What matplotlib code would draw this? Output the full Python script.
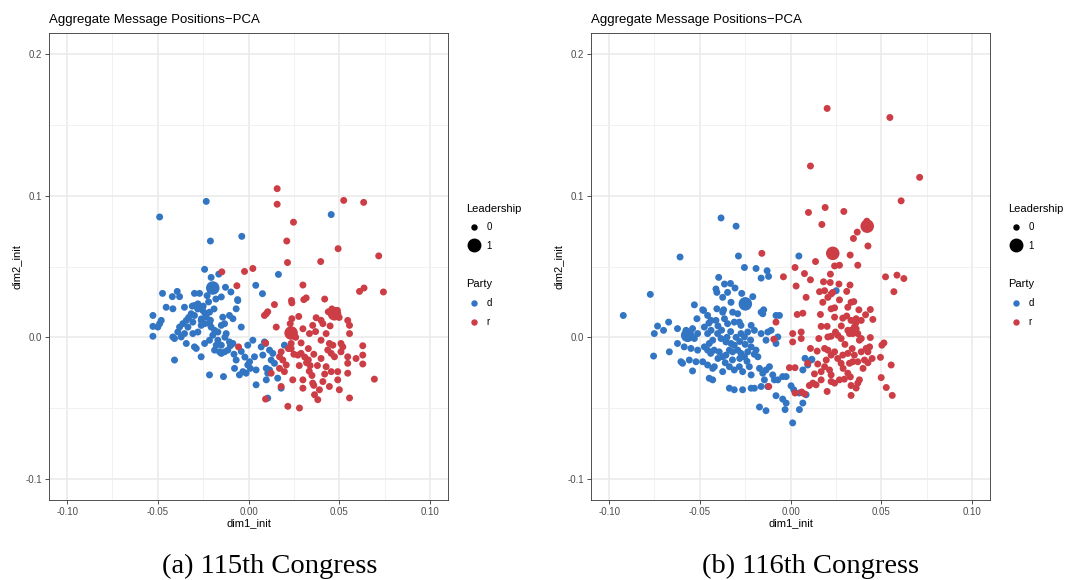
import numpy as np
import matplotlib
matplotlib.use("Agg")
import matplotlib.pyplot as plt
from matplotlib.lines import Line2D
from matplotlib.ticker import FixedLocator

plt.rcParams['font.family'] = ['Liberation Sans', 'DejaVu Sans']
plt.rcParams['axes.unicode_minus'] = False

BLUE = "#3275c3"
RED = "#cc3d45"

# ---- 115th Congress (panel a) ----
a_dem = [(-0.049, 0.085), (-0.0233, 0.096), (-0.021, 0.068), (-0.0037, 0.0713), (-0.0242, 0.048),
         (-0.0164, 0.0446), (-0.0206, 0.0423), (-0.0127, 0.0353), (-0.0097, 0.032), (0.004, 0.0367),
         (0.0077, 0.0308), (-0.0474, 0.031), (-0.0393, 0.0324), (-0.0298, 0.031), (-0.027, 0.031),
         (-0.042, 0.0287), (-0.038, 0.0287), (-0.0228, 0.0294), (-0.015, 0.0285), (-0.006, 0.0266),
         (0.0456, 0.0867), (0.0165, 0.0444),
         (0.0094, -0.0044), (0.0079, -0.0126), (0.0116, -0.0091), (0.0134, -0.0114), (0.0125, -0.0161),
         (0.0143, -0.0184), (0.0098, -0.0219), (0.0116, -0.0231), (0.0106, -0.0254), (0.0098, -0.0301),
         (0.0161, -0.0289), (0.018, -0.036), (0.0106, -0.043), (0.0198, -0.0056),
         (-0.0527, 0.0154), (-0.0454, 0.0212), (-0.0417, 0.0201), (-0.0353, 0.0212), (-0.0298, 0.0224),
         (-0.0279, 0.0236), (-0.0252, 0.0189), (-0.0215, 0.0177), (-0.0233, 0.0142), (-0.0261, 0.0119),
         (-0.0298, 0.0154), (-0.0316, 0.0166), (-0.0307, 0.0107), (-0.0142, 0.0142), (-0.0105, 0.0154),
         (-0.0086, 0.0131), (-0.0068, 0.0201), (-0.0059, 0.0259), (-0.0481, 0.0119), (-0.049, 0.0096),
         (-0.0527, 0.0077), (-0.0527, 0.0007), (-0.05, 0.0072),
         (-0.038, 0.0072), (-0.0362, 0.0096), (-0.0343, 0.0119), (-0.039, 0.0037), (-0.0408, -0.0009),
         (-0.0417, 0.0002), (-0.0371, 0.0002), (-0.0353, 0.0026), (-0.0334, 0.0072), (-0.0307, 0.0026),
         (-0.0279, 0.0037), (-0.0261, 0.0084), (-0.0242, 0.0096), (-0.0215, 0.0096), (-0.0206, 0.0072),
         (-0.0187, 0.0049), (-0.0169, 0.0037), (-0.015, 0.0084), (-0.0132, 0.0096),
         (-0.0343, -0.0044), (-0.0298, -0.0068), (-0.0261, -0.0138), (-0.0288, -0.0079), (-0.0242, -0.0044),
         (-0.0215, -0.0021), (-0.0197, 0.0014), (-0.0169, -0.0021), (-0.015, -0.0056), (-0.0178, -0.0056),
         (-0.0187, -0.0091), (-0.016, -0.0103), (-0.0132, -0.0103), (-0.0114, -0.0091), (-0.0105, -0.0033),
         (-0.0086, -0.0044), (-0.0123, 0.0026), (-0.004, 0.0072), (-0.015, -0.0114),
         (-0.0408, -0.0161), (-0.0215, -0.0266), (-0.0138, -0.0278),
         (-0.0068, -0.0161), (-0.0077, -0.022), (-0.005, -0.0266), (-0.0031, -0.0243), (-0.0013, -0.0254),
         (-0.0004, -0.0196), (0.0006, -0.0173), (0.0024, -0.0021), (0.0033, -0.0138), (-0.0004, -0.0056),
         (0.0042, -0.0231), (0.007, -0.0068), (0.0088, -0.0033), (0.0042, -0.0336),
         (-0.025, 0.022), (-0.022, 0.025), (-0.028, 0.020), (-0.024, 0.017), (-0.019, 0.020),
         (-0.031, 0.022), (-0.026, 0.013), (-0.033, 0.014), (-0.021, 0.012), (-0.018, 0.027),
         (-0.013, 0.0), (-0.010, -0.006), (-0.008, -0.012), (-0.004, -0.010), (-0.002, -0.014),
         (0.001, -0.022)]

a_rep = [(-0.0147, 0.0462), (-0.0022, 0.0465), (0.0024, 0.0486), (-0.0064, 0.0364),
         (0.0158, 0.105), (0.0158, 0.094), (0.0525, 0.0967), (0.0635, 0.0953), (0.0248, 0.0813),
         (0.0211, 0.068), (0.0494, 0.0626), (0.0718, 0.0575), (0.0215, 0.0528), (0.0398, 0.0535),
         (0.030, 0.0369), (0.0612, 0.0324), (0.0637, 0.0348), (0.0744, 0.032), (0.0318, 0.0278),
         (0.0305, 0.0266), (0.042, 0.027), (0.0237, 0.026),
         (0.0239, 0.0243), (0.0143, 0.0231), (0.0106, 0.018), (0.0088, 0.0154), (0.0153, 0.0072),
         (0.0277, 0.0147), (0.0239, 0.0131), (0.023, 0.0096), (0.0373, 0.0138), (0.041, 0.0096),
         (0.0428, 0.0026), (0.0547, 0.0119), (0.0557, 0.0084), (0.0557, 0.0026), (0.0354, 0.0084),
         (0.030, 0.006), (0.0336, 0.0026), (0.04, -0.0021), (0.0446, -0.0044), (0.0465, -0.0056),
         (0.051, -0.0044), (0.063, -0.006), (0.0235, -0.0044), (0.0235, -0.008), (0.018, -0.0103),
         (0.0189, -0.0161), (0.0171, -0.022), (0.0272, -0.0126), (0.029, -0.0114), (0.033, -0.016),
         (0.034, -0.02), (0.0335, -0.024), (0.04, -0.015), (0.0437, -0.009), (0.0456, -0.0114),
         (0.0474, -0.0138), (0.052, -0.0068), (0.051, -0.0103), (0.0547, -0.0138), (0.0547, -0.0184),
         (0.0593, -0.015), (0.063, -0.0126), (0.063, -0.0189), (0.0428, -0.0208), (0.0456, -0.0243),
         (0.0492, -0.0243), (0.0547, -0.0254), (0.0492, -0.0301), (0.041, -0.0313), (0.0446, -0.0348),
         (0.0391, -0.0371), (0.0354, -0.0324), (0.030, -0.0301), (0.030, -0.036), (0.0244, -0.0301),
         (0.0501, -0.0371), (0.0557, -0.0429), (0.0694, -0.0296), (0.0364, -0.0406), (0.0382, -0.0441),
         (0.0217, -0.0488), (0.0281, -0.05), (0.0094, -0.0437), (0.018, -0.0348), (0.0125, -0.0254),
         (0.0198, -0.0243), (0.0208, -0.0196), (0.0171, -0.0138),
         (0.0098, 0.0166), (-0.0055, -0.0068), (0.0094, -0.004),
         (0.032, -0.018), (0.028, -0.020), (0.035, -0.027), (0.038, -0.02), (0.033, -0.008),
         (0.029, -0.004), (0.026, 0.0), (0.037, 0.004), (0.040, 0.012), (0.044, 0.018),
         (0.046, 0.020), (0.049, 0.019), (0.050, 0.014), (0.045, 0.008), (0.025, -0.012),
         (0.022, -0.008), (0.036, -0.034), (0.042, -0.026), (0.031, -0.014), (0.036, -0.012)]

a_dem_lead = [(-0.0197, 0.0348)]
a_rep_lead = [(0.0235, 0.003), (0.0474, 0.0166)]

# ---- 116th Congress (panel b) ----
b_dem = [(-0.0383, 0.0843), (-0.03, 0.0785), (-0.0287, 0.0574), (0.0046, 0.0574), (-0.0254, 0.0493),
         (-0.019, 0.0486), (-0.0129, 0.047), (-0.0121, 0.043), (-0.0162, 0.0418), (-0.0396, 0.0423),
         (-0.0364, 0.0376), (-0.0331, 0.038), (-0.0306, 0.0348), (-0.0411, 0.0341), (-0.0406, 0.0317),
         (-0.0347, 0.0317), (-0.0374, 0.0282), (-0.0328, 0.0247), (-0.0269, 0.031), (-0.0208, 0.0287),
         (-0.0406, 0.0201), (-0.0369, 0.0194), (-0.0148, 0.0194),
         (-0.0374, 0.0177), (-0.0319, 0.0177), (-0.0291, 0.0166), (-0.0162, 0.0177), (-0.0153, 0.0166),
         (-0.008, 0.0154), (-0.0061, 0.0154),
         (-0.0438, 0.0119), (-0.0411, 0.0119), (-0.0364, 0.0131), (-0.0347, 0.0096), (-0.031, 0.0107),
         (-0.0282, 0.0107), (-0.0273, 0.0084), (-0.0217, 0.0084), (-0.0199, 0.0049), (-0.0236, 0.0037),
         (-0.0254, 0.0002), (-0.0273, 0.0026), (-0.0162, 0.0026), (-0.0125, 0.0037), (-0.0107, 0.0049),
         (-0.007, 0.0002), (-0.008, -0.0044), (-0.0135, -0.0021),
         (-0.0448, -0.0044), (-0.0429, -0.0021), (-0.0402, 0.0026), (-0.0383, -0.0009), (-0.0356, -0.0033),
         (-0.0328, -0.0044), (-0.031, -0.0056),
         (-0.044, -0.0114), (-0.0421, -0.0091), (-0.0393, -0.0103), (-0.0374, -0.0138), (-0.0356, -0.0126),
         (-0.0337, -0.0091), (-0.0319, -0.0103), (-0.0291, -0.0091), (-0.0273, -0.0114), (-0.0254, -0.0138),
         (-0.0236, -0.0103), (-0.0217, -0.0068), (-0.019, -0.0091), (-0.018, -0.0138),
         (-0.042, -0.0208), (-0.0374, -0.0243), (-0.0337, -0.0208), (-0.031, -0.0231), (-0.0282, -0.0208),
         (-0.0264, -0.0243), (-0.0227, -0.0208), (-0.0217, -0.0266), (-0.0171, -0.022), (-0.0153, -0.0254),
         (-0.0135, -0.0231), (-0.0116, -0.0208), (-0.0144, -0.0301), (-0.0098, -0.0266), (-0.0089, -0.0301),
         (-0.007, -0.0301), (-0.0043, -0.0278), (-0.0024, -0.0278),
         (-0.0337, -0.036), (-0.031, -0.0371), (-0.0264, -0.0371), (-0.0217, -0.036), (-0.0199, -0.036),
         (-0.0162, -0.0348), (-0.0125, -0.0348),
         (-0.008, -0.0413), (-0.0043, -0.0437), (-0.0024, -0.0465), (0.0003, -0.0343), (0.0018, -0.0371),
         (0.0049, -0.0394), (0.0068, -0.0465), (0.0049, -0.0511), (-0.0171, -0.0493), (-0.0135, -0.0519),
         (-0.003, -0.0511), (0.0012, -0.0605),
         (0.0068, -0.0231), (0.0095, -0.0196), (0.0114, -0.0161), (0.008, -0.0149), (0.0118, -0.0156),
         (0.0086, -0.0406), (0.0252, 0.0329),
         (-0.0609, 0.0567), (-0.0773, 0.0303), (-0.053, 0.0229), (-0.0484, 0.0194), (-0.0922, 0.0154),
         (-0.0479, 0.0189), (-0.0457, 0.0154), (-0.0516, 0.0131), (-0.0733, 0.0079), (-0.0672, 0.0107),
         (-0.0751, 0.0026), (-0.07, 0.0049), (-0.0623, 0.0061), (-0.0576, 0.0049), (-0.054, 0.0061),
         (-0.053, -0.0009), (-0.0512, 0.0026), (-0.0475, 0.0072), (-0.0457, 0.0026), (-0.0438, 0.0049),
         (-0.0755, -0.0133), (-0.0668, -0.0103), (-0.0623, -0.0044), (-0.0586, -0.0068), (-0.0549, -0.0079),
         (-0.0512, -0.0091), (-0.0475, -0.0068), (-0.0457, -0.0091), (-0.0604, -0.0173), (-0.0595, -0.0184),
         (-0.0558, -0.0161), (-0.0521, -0.0173), (-0.0484, -0.0173), (-0.0457, -0.0196), (-0.0429, -0.022),
         (-0.0429, -0.0301), (-0.0448, -0.029), (-0.054, -0.0238),
         (-0.040, 0.008), (-0.038, 0.005), (-0.035, 0.0), (-0.033, 0.004), (-0.030, 0.0),
         (-0.028, -0.003), (-0.025, -0.005), (-0.022, -0.002), (-0.020, -0.012), (-0.024, -0.017),
         (-0.028, -0.015), (-0.032, -0.016), (-0.036, -0.018), (-0.040, -0.015), (-0.045, 0.010)]

b_rep = [(0.0202, 0.1617), (0.0548, 0.1553), (0.011, 0.121), (0.0712, 0.113), (0.061, 0.0964),
         (0.0099, 0.0882), (0.0191, 0.0917), (0.0294, 0.0889), (0.0421, 0.082),
         (0.0368, 0.0743), (0.0347, 0.0698), (0.0173, 0.0797), (0.0427, 0.0645), (0.0329, 0.0581),
         (0.0138, 0.0535), (0.0243, 0.0504), (0.027, 0.0509), (0.0371, 0.0509), (0.0077, 0.045),
         (0.022, 0.0446), (0.0524, 0.0427), (0.0587, 0.0439), (0.0625, 0.0415), (0.057, 0.0322),
         (0.011, 0.0406), (0.0182, 0.0392), (0.0219, 0.0387), (0.0267, 0.0376), (0.0328, 0.0369),
         (0.016, 0.0322), (0.0188, 0.0329), (0.0224, 0.0306), (0.0206, 0.0282), (0.0233, 0.0317),
         (0.031, 0.0324), (0.0086, 0.0282), (0.0178, 0.0247), (0.027, 0.0264), (0.0224, 0.0201),
         (0.0243, 0.0208), (0.0316, 0.0212), (0.0334, 0.0247), (0.0349, 0.0252), (0.0377, 0.0194),
         (0.044, 0.0196), (0.0414, 0.0159), (0.0454, 0.0126), (0.0165, 0.0161), (0.0068, 0.017),
         (0.0243, 0.0142), (0.0288, 0.0135), (0.0334, 0.0119), (0.0362, 0.0131), (0.039, 0.0119),
         (0.0316, 0.0049), (0.0334, 0.0049), (0.0352, 0.0072), (0.0325, 0.0026), (0.0343, 0.0026),
         (0.0362, 0.006), (0.0371, 0.0026), (0.039, -0.0009), (0.038, -0.0021), (0.044, -0.0002),
         (0.0202, 0.0077), (0.0169, 0.0077), (0.0248, 0.0037), (0.0261, 0.0014), (0.0224, 0.0007),
         (0.0206, 0.0002), (0.0279, -0.0009), (0.0156, -0.0009), (0.0059, 0.0037), (0.0059, -0.0009),
         (0.0515, -0.004), (0.0504, -0.0056), (0.0496, -0.0142), (0.0555, -0.0196), (0.05, -0.0285),
         (0.0528, -0.0355), (0.0561, -0.0411),
         (0.011, -0.0079), (0.0147, -0.0098), (0.0188, -0.0079), (0.0206, -0.0091), (0.0224, -0.0126),
         (0.0243, -0.0103), (0.0288, -0.0126), (0.0316, -0.0114), (0.0352, -0.0126), (0.039, -0.0103),
         (0.0417, -0.0079), (0.0436, -0.0068), (0.0427, -0.0103), (0.0095, -0.0184), (0.015, -0.0189),
         (0.0197, -0.0161), (0.0188, -0.0208), (0.0215, -0.0231), (0.0224, -0.0266), (0.0279, -0.0184),
         (0.0325, -0.0184), (0.0343, -0.0173), (0.0371, -0.0173), (0.0408, -0.0161), (0.0427, -0.018),
         (0.0132, -0.0259), (0.0169, -0.0243), (0.0169, -0.0301), (0.0141, -0.0336), (0.0104, -0.0341),
         (0.0123, -0.0324), (0.0224, -0.0313), (0.0243, -0.0324), (0.027, -0.0301), (0.0316, -0.0254),
         (0.0297, -0.0296), (0.0371, -0.0324), (0.038, -0.0301), (0.0334, -0.0341), (0.0362, -0.0359),
         (0.0202, -0.0383), (0.0334, -0.0411), (0.0062, -0.0387), (0.0077, -0.04),
         (-0.0158, 0.0593), (0.0025, 0.0493), (-0.0039, 0.0427), (0.0031, 0.0362),
         (-0.008, 0.0107), (0.0037, 0.0161), (0.0012, 0.0026), (0.0012, -0.0033), (-0.0092, -0.0014),
         (-0.012, -0.0348), (0.0025, -0.0394), (-0.0006, -0.0215), (0.0025, -0.0215),
         (0.030, -0.005), (0.028, 0.008), (0.034, -0.008), (0.036, 0.010), (0.031, 0.015),
         (0.026, -0.015), (0.029, -0.022), (0.033, -0.028), (0.040, -0.022), (0.045, -0.015)]

b_dem_lead = [(-0.0249, 0.0236), (-0.0567, 0.0014)]
b_rep_lead = [(0.0423, 0.0785), (0.0233, 0.0593)]

xticks = [-0.10, -0.05, 0.00, 0.05, 0.10]
yticks = [-0.1, 0.0, 0.1, 0.2]
captions = ["(a) 115th Congress", "(b) 116th Congress"]

SMALL = 25
LARGE = 95


def draw_panel(ax, dem, rep, dem_lead, rep_lead):
    for pts, col, s in [(dem, BLUE, SMALL), (rep, RED, SMALL),
                        (dem_lead, BLUE, LARGE), (rep_lead, RED, LARGE)]:
        arr = np.array(pts)
        ax.scatter(arr[:, 0], arr[:, 1], s=s, color=col, edgecolors='none', zorder=3)
    ax.set_xlim(-0.11, 0.11)
    ax.set_ylim(-0.115, 0.215)
    ax.set_xticks(xticks)
    ax.set_xticklabels(["%.2f" % v for v in xticks])
    ax.set_yticks(yticks)
    ax.set_yticklabels(["%.1f" % v for v in yticks])
    ax.xaxis.set_minor_locator(FixedLocator([-0.075, -0.025, 0.025, 0.075]))
    ax.yaxis.set_minor_locator(FixedLocator([-0.05, 0.05, 0.15]))
    ax.grid(which='major', color='#EBEBEB', lw=1.2, zorder=0)
    ax.grid(which='minor', color='#F1F1F1', lw=0.7, zorder=0)
    ax.set_axisbelow(True)
    ax.tick_params(which='major', length=3, width=0.6, color='#333333',
                   labelsize=7, labelcolor='#4D4D4D', pad=2)
    ax.tick_params(which='minor', length=0)
    for sp in ax.spines.values():
        sp.set_color('#333333')
        sp.set_linewidth(0.6)
    ax.set_xlabel("dim1_init", fontsize=8, labelpad=1)
    ax.set_ylabel("dim2_init", fontsize=8, labelpad=3)
    ax.set_title("Aggregate Message Positions\u2212PCA", loc='left', fontsize=9.5, pad=7)

    lead_handles = [Line2D([], [], ls='none', marker='o', color='black', markersize=3.6, label='0'),
                    Line2D([], [], ls='none', marker='o', color='black', markersize=9, label='1')]
    party_handles = [Line2D([], [], ls='none', marker='o', color=BLUE, markersize=3.6, label='d'),
                     Line2D([], [], ls='none', marker='o', color=RED, markersize=3.6, label='r')]
    leg1 = ax.legend(handles=lead_handles, title='Leadership', loc='upper left',
                     bbox_to_anchor=(1.035, 0.642), frameon=False, fontsize=7,
                     title_fontsize=8, alignment='left', handletextpad=0.5,
                     labelspacing=0.85, borderaxespad=0, handlelength=1.6)
    ax.add_artist(leg1)
    ax.legend(handles=party_handles, title='Party', loc='upper left',
              bbox_to_anchor=(1.035, 0.482), frameon=False, fontsize=7,
              title_fontsize=8, alignment='left', handletextpad=0.5,
              labelspacing=0.95, borderaxespad=0, handlelength=1.6)


fig = plt.figure(figsize=(10.68, 5.8), dpi=100)
ax_a = fig.add_axes([49 / 1068, 80 / 580, 399 / 1068, 467 / 580])
ax_b = fig.add_axes([591 / 1068, 80 / 580, 399 / 1068, 467 / 580])
draw_panel(ax_a, a_dem, a_rep, a_dem_lead, a_rep_lead)
draw_panel(ax_b, b_dem, b_rep, b_dem_lead, b_rep_lead)

fig.text(270 / 1068, 1 - 566 / 580, captions[0], ha='center', va='center',
         fontsize=20.5, family=['Liberation Serif', 'DejaVu Serif'])
fig.text(810 / 1068, 1 - 566 / 580, captions[1], ha='center', va='center',
         fontsize=20.5, family=['Liberation Serif', 'DejaVu Serif'])

fig.savefig("out.png", dpi=100)
